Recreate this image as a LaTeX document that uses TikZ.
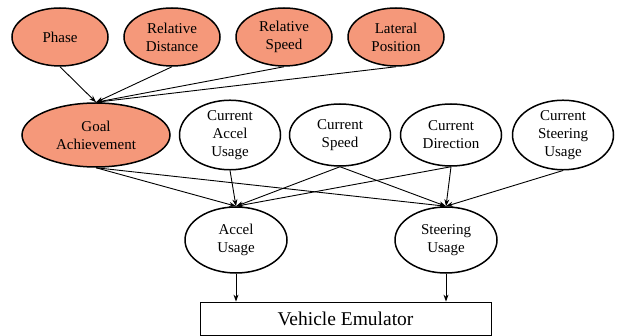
\documentclass[tikz,border=0pt]{standalone}
\usepackage{fontspec}
\setmainfont{Liberation Serif}
\usetikzlibrary{shapes.geometric,arrows.meta}
\definecolor{salmonfill}{RGB}{245,152,122}

\begin{document}
\begin{tikzpicture}[x=1pt, y=-1pt,
    var/.style={ellipse, draw, line width=1.5pt, inner sep=0pt, align=center,
      font=\fontsize{15}{18}\selectfont},
    given/.style={var, fill=salmonfill},
    edge/.style={line width=0.9pt, -{Stealth[length=7pt, width=5pt]}}]
    \useasboundingbox (0,0) rectangle (617,336);
    % inputs of the goal
    \node[given, minimum width=96pt, minimum height=58pt] (phase) at (60,37) {Phase};
    \node[given, minimum width=96pt, minimum height=58pt] (reldist) at (172,37) {Relative\\Distance};
    \node[given, minimum width=96pt, minimum height=58pt] (relspeed) at (284,37) {Relative\\Speed};
    \node[given, minimum width=96pt, minimum height=58pt] (latpos) at (396,37) {Lateral\\Position};
    % middle row
    \node[given, minimum width=148pt, minimum height=64pt] (goal) at (96,135) {Goal\\Achievement};
    \node[var, minimum width=101pt, minimum height=62pt] (curaccel) at (230,135) {Current\\Accel\\Usage};
    \node[var, minimum width=101pt, minimum height=62pt] (curspeed) at (340,135) {Current\\Speed};
    \node[var, minimum width=101pt, minimum height=62pt] (curdir) at (451,135) {Current\\Direction};
    \node[var, minimum width=101pt, minimum height=62pt] (cursteer) at (563,135) {Current\\Steering\\Usage};
    % outputs
    \node[var, minimum width=102pt, minimum height=66pt] (accel) at (236,240) {Accel\\Usage};
    \node[var, minimum width=102pt, minimum height=66pt] (steer) at (446,240) {Steering\\Usage};
    \node[draw, line width=0.8pt, minimum width=291pt, minimum height=33pt, inner sep=0pt,
      font=\fontsize{19.5}{22}\selectfont] (emulator) at (345.5,318.5) {Vehicle Emulator};

    \foreach \src in {phase, reldist, relspeed, latpos}
      \draw[edge] (\src.south) -- (goal.north);
    \foreach \src in {goal, curaccel, curspeed, curdir}
      \draw[edge] (\src.south) -- (accel.north);
    \foreach \src in {goal, curspeed, curdir, cursteer}
      \draw[edge] (\src.south) -- (steer.north);
    \draw[edge] (accel.south) -- (accel.south |- emulator.north);
    \draw[edge] (steer.south) -- (steer.south |- emulator.north);
  \end{tikzpicture}
\end{document}
